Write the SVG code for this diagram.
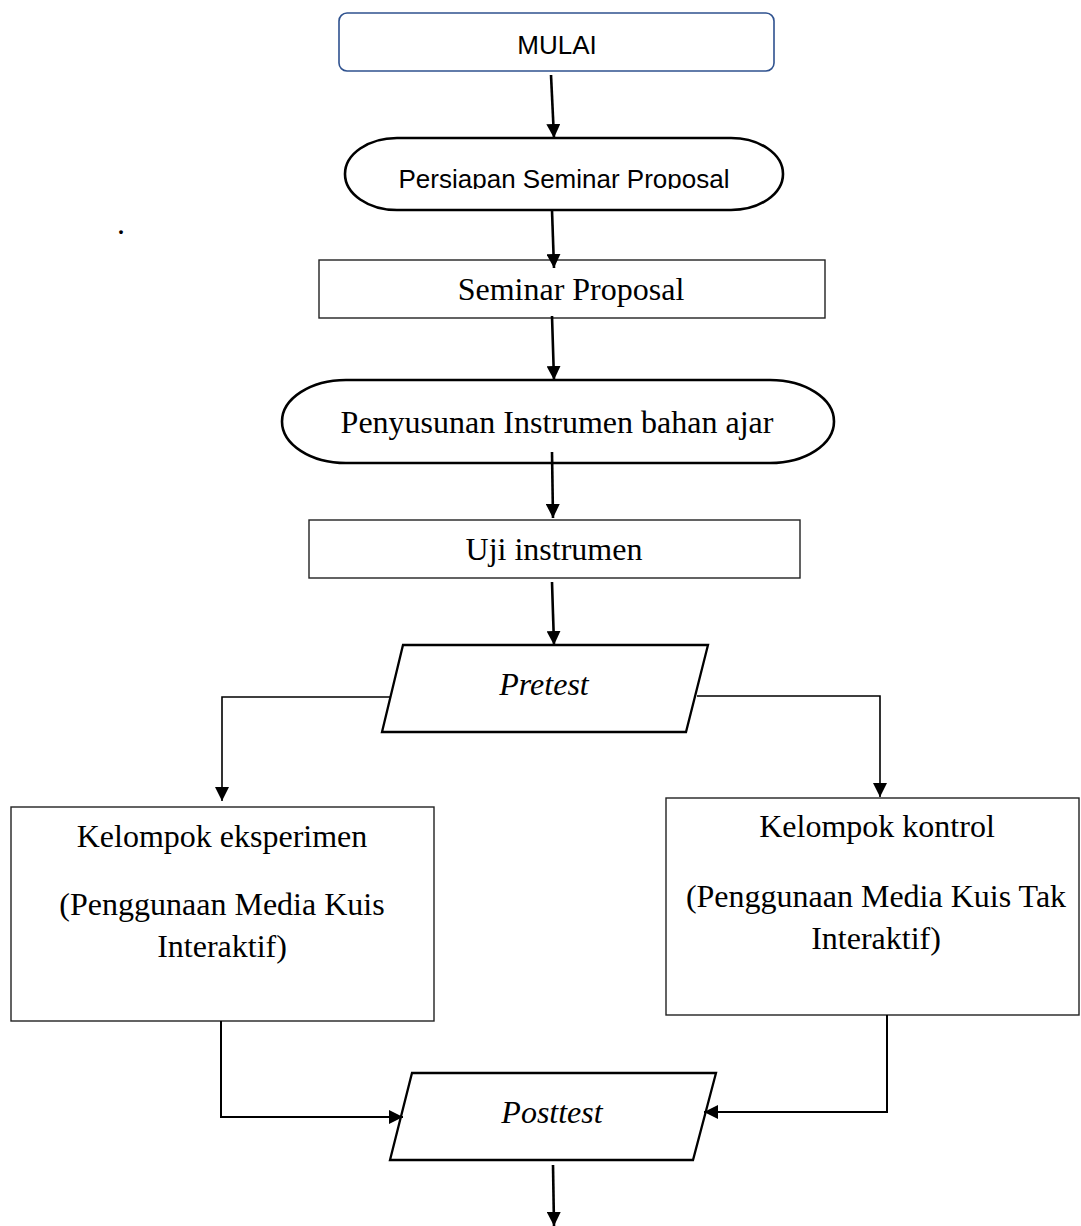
<svg xmlns="http://www.w3.org/2000/svg" width="1081" height="1226" viewBox="0 0 1081 1226">
<style>
.serif{font-family:"Liberation Serif","Times New Roman",serif;font-size:32px;fill:#000;text-anchor:middle}
.ital{font-style:italic}
.sans{font-family:"Liberation Sans",Arial,sans-serif;font-size:26px;fill:#000;text-anchor:middle}
.box{fill:#fff;stroke:#222;stroke-width:1.4}
.term{fill:#fff;stroke:#000;stroke-width:2.6}
.io{fill:#fff;stroke:#000;stroke-width:2.3;stroke-linejoin:miter}
.main{fill:none;stroke:#000;stroke-width:2.6}
.branch{fill:none;stroke:#000;stroke-width:1.6}
</style>
<defs>
<marker id="ah" markerUnits="userSpaceOnUse" viewBox="0 0 14 14" markerWidth="14" markerHeight="14" refX="14" refY="7" orient="auto"><path d="M0,0 L14,7 L0,14 z" fill="#000"/></marker>
<clipPath id="clipP"><rect x="340" y="130" width="450" height="59"/></clipPath>
</defs>
<rect width="1081" height="1226" fill="#fff"/>

<g id="mulai">
<rect x="339" y="13" width="435" height="58" rx="8" ry="8" fill="#fff" stroke="#2F528F" stroke-width="1.6"/>
<text class="sans" x="557" y="54">MULAI</text>
</g>

<g id="persiapan">
<rect class="term" x="345" y="138" width="438" height="72" rx="52" ry="36"/>
<text class="sans" x="564" y="188" clip-path="url(#clipP)">Persiapan Seminar Proposal</text>
</g>

<text class="serif" x="121" y="234">.</text>

<g id="seminar">
<rect class="box" x="319" y="260" width="506" height="58"/>
<text class="serif" x="571" y="300">Seminar Proposal</text>
</g>

<g id="penyusunan">
<rect class="term" x="282" y="380" width="552" height="83" rx="64" ry="41.5"/>
<text class="serif" x="557" y="433">Penyusunan Instrumen bahan ajar</text>
</g>

<g id="uji">
<rect class="box" x="309" y="520" width="491" height="58"/>
<text class="serif" x="554" y="560">Uji instrumen</text>
</g>

<g id="pretest">
<polygon class="io" points="403,645 708,645 686,732 382,732"/>
<text class="serif ital" x="544" y="695">Pretest</text>
</g>

<g id="eksperimen">
<rect class="box" x="11" y="807" width="423" height="214"/>
<text class="serif" x="222" y="847">Kelompok eksperimen</text>
<text class="serif" x="222" y="915">(Penggunaan Media Kuis</text>
<text class="serif" x="222" y="957">Interaktif)</text>
</g>

<g id="kontrol">
<rect class="box" x="666" y="798" width="413" height="217"/>
<text class="serif" x="877" y="837">Kelompok kontrol</text>
<text class="serif" x="876" y="907">(Penggunaan Media Kuis Tak</text>
<text class="serif" x="876" y="949">Interaktif)</text>
</g>

<g id="posttest">
<polygon class="io" points="412,1073 716,1073 693,1160 390,1160"/>
<text class="serif ital" x="552" y="1123">Posttest</text>
</g>

<g id="connectors">
<line class="main" x1="551" y1="75" x2="554" y2="138" marker-end="url(#ah)"/>
<line class="main" x1="552" y1="210" x2="554" y2="268" marker-end="url(#ah)"/>
<line class="main" x1="552" y1="316" x2="554" y2="380" marker-end="url(#ah)"/>
<line class="main" x1="552" y1="452" x2="553" y2="518" marker-end="url(#ah)"/>
<line class="main" x1="552" y1="582" x2="554" y2="645" marker-end="url(#ah)"/>
<polyline class="branch" points="390,697 222,697 222,801" marker-end="url(#ah)"/>
<polyline class="branch" points="697,696 880,696 880,797" marker-end="url(#ah)"/>
<polyline class="main" style="stroke-width:2" points="221,1021 221,1117 403,1117" marker-end="url(#ah)"/>
<polyline class="main" style="stroke-width:2" points="887,1015 887,1112 704,1112" marker-end="url(#ah)"/>
<line class="main" x1="553" y1="1165" x2="554" y2="1226" marker-end="url(#ah)"/>
</g>
</svg>
